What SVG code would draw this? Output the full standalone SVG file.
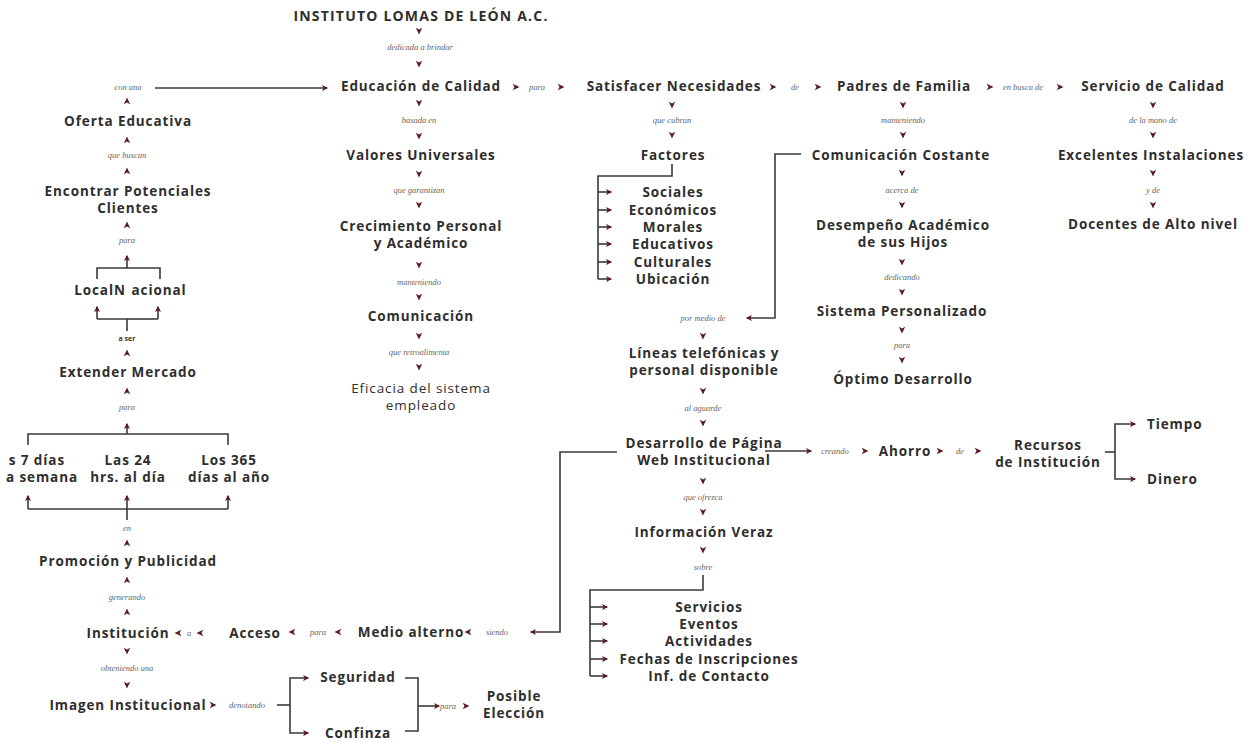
<svg xmlns="http://www.w3.org/2000/svg" width="1248" height="743" viewBox="0 0 1248 743">
<style>
.n{font-family:"Open Sans","Liberation Sans",sans-serif;font-weight:700;font-size:13.5px;letter-spacing:0.9px;fill:#2e2e2e;text-anchor:middle;dominant-baseline:central}
.nl{font-weight:500}
.l{font-family:"Liberation Serif",serif;font-style:italic;font-size:8.5px;fill:#666;text-anchor:middle;dominant-baseline:central}
.lb{font-family:"Open Sans","Liberation Sans",sans-serif;font-weight:700;font-size:7px;fill:#333;text-anchor:middle;dominant-baseline:central}
.c{fill:none;stroke:#3a3a3a;stroke-width:1.6}
.a{marker-end:url(#mk)}
</style>
<defs>
<path id="ar" d="M-3.3,-3.2 L3.5,0 L-3.3,3.2 L-1.5,0 Z" fill="#5c1a1f"/>
<marker id="mk" markerUnits="userSpaceOnUse" viewBox="-4 -4 8 8" refX="2" refY="0" markerWidth="8" markerHeight="8" orient="auto">
<path d="M-3,-3 L3.2,0 L-3,3 L-1.4,0 Z" fill="#5c1a1f"/>
</marker>
</defs>

<g id="connectors">
<use href="#ar" transform="translate(419,31) rotate(90)"/>
<text class="l" x="420" y="47">dedicada a brindar</text>
<use href="#ar" transform="translate(419,64) rotate(90)"/>
<use href="#ar" transform="translate(419,103) rotate(90)"/>
<text class="l" x="419" y="120">basada en</text>
<use href="#ar" transform="translate(419,136) rotate(90)"/>
<use href="#ar" transform="translate(419,174) rotate(90)"/>
<text class="l" x="419" y="190">que garantizan</text>
<use href="#ar" transform="translate(419,205) rotate(90)"/>
<use href="#ar" transform="translate(419,265) rotate(90)"/>
<text class="l" x="419" y="282">manteniendo</text>
<use href="#ar" transform="translate(419,297) rotate(90)"/>
<use href="#ar" transform="translate(419,336) rotate(90)"/>
<text class="l" x="419" y="352">que retroalimenta</text>
<use href="#ar" transform="translate(419,367) rotate(90)"/>

<use href="#ar" transform="translate(516,87)"/>
<text class="l" x="537" y="87">para</text>
<use href="#ar" transform="translate(561,87)"/>
<use href="#ar" transform="translate(773,87)"/>
<text class="l" x="795" y="87">de</text>
<use href="#ar" transform="translate(818,87)"/>
<use href="#ar" transform="translate(990,87)"/>
<text class="l" x="1023" y="87">en busca de</text>
<use href="#ar" transform="translate(1060,87)"/>

<use href="#ar" transform="translate(672,105) rotate(90)"/>
<text class="l" x="672" y="120">que cubran</text>
<use href="#ar" transform="translate(672,135) rotate(90)"/>
<path class="c" d="M672,164 V176 H598 V279"/>
<path class="c a" d="M598,192 H611"/>
<path class="c a" d="M598,210 H611"/>
<path class="c a" d="M598,227 H611"/>
<path class="c a" d="M598,244 H611"/>
<path class="c a" d="M598,262 H611"/>
<path class="c a" d="M598,279 H611"/>

<use href="#ar" transform="translate(903,105) rotate(90)"/>
<text class="l" x="903" y="120">manteniendo</text>
<use href="#ar" transform="translate(903,135) rotate(90)"/>
<path class="c a" d="M801,154 H775 V318 H747"/>
<use href="#ar" transform="translate(902,173) rotate(90)"/>
<text class="l" x="902" y="190">acerca de</text>
<use href="#ar" transform="translate(902,205) rotate(90)"/>
<use href="#ar" transform="translate(902,262) rotate(90)"/>
<text class="l" x="902" y="277">dedicando</text>
<use href="#ar" transform="translate(902,292) rotate(90)"/>
<use href="#ar" transform="translate(902,330) rotate(90)"/>
<text class="l" x="902" y="345">para</text>
<use href="#ar" transform="translate(902,360) rotate(90)"/>

<use href="#ar" transform="translate(1153,105) rotate(90)"/>
<text class="l" x="1153" y="120">de la mano de</text>
<use href="#ar" transform="translate(1153,135) rotate(90)"/>
<use href="#ar" transform="translate(1153,173) rotate(90)"/>
<text class="l" x="1153" y="190">y de</text>
<use href="#ar" transform="translate(1153,205) rotate(90)"/>

<text class="l" x="703" y="318">por medio de</text>
<use href="#ar" transform="translate(703,336) rotate(90)"/>
<use href="#ar" transform="translate(703,391) rotate(90)"/>
<text class="l" x="703" y="408">al aguarde</text>
<use href="#ar" transform="translate(703,423) rotate(90)"/>
<use href="#ar" transform="translate(703,481) rotate(90)"/>
<text class="l" x="703" y="497">que ofrezca</text>
<use href="#ar" transform="translate(703,512) rotate(90)"/>
<use href="#ar" transform="translate(703,550) rotate(90)"/>
<text class="l" x="703" y="567">sobre</text>
<path class="c" d="M703,575 V590 H590 V676"/>
<path class="c a" d="M590,607 H607"/>
<path class="c a" d="M590,624 H607"/>
<path class="c a" d="M590,641 H607"/>
<path class="c a" d="M590,659 H607"/>
<path class="c a" d="M590,676 H607"/>

<path class="c a" d="M765,451 H811"/>
<text class="l" x="835" y="451">creando</text>
<use href="#ar" transform="translate(865,451)"/>
<use href="#ar" transform="translate(940,451)"/>
<text class="l" x="960" y="451">de</text>
<use href="#ar" transform="translate(978,451)"/>
<path class="c" d="M1105,452 H1115"/>
<path class="c a" d="M1115,452 V424 H1135"/>
<path class="c a" d="M1115,452 V479 H1135"/>

<path class="c a" d="M617,452 H560 V632 H531"/>
<text class="l" x="497" y="632">siendo</text>
<use href="#ar" transform="translate(468,632) rotate(180)"/>
<use href="#ar" transform="translate(338,632) rotate(180)"/>
<text class="l" x="318" y="632">para</text>
<use href="#ar" transform="translate(292,632) rotate(180)"/>
<use href="#ar" transform="translate(200,633) rotate(180)"/>
<text class="l" x="189" y="633">a</text>
<use href="#ar" transform="translate(178,633) rotate(180)"/>

<text class="l" x="128" y="87">con una</text>
<path class="c a" d="M155,88 H327"/>
<use href="#ar" transform="translate(127,101) rotate(-90)"/>
<use href="#ar" transform="translate(127,140) rotate(-90)"/>
<text class="l" x="127" y="155">que buscan</text>
<use href="#ar" transform="translate(127,171) rotate(-90)"/>
<use href="#ar" transform="translate(127,225) rotate(-90)"/>
<text class="l" x="127" y="240">para</text>
<path class="c a" d="M127,268 V256"/>
<path class="c" d="M97,279 V268 H160 V279"/>
<path class="c" d="M127,331 V319 H97"/>
<path class="c" d="M127,319 H158"/>
<path class="c a" d="M97,319 V307"/>
<path class="c a" d="M158,319 V307"/>
<text class="lb" x="127" y="338">a ser</text>
<use href="#ar" transform="translate(127,353) rotate(-90)"/>
<use href="#ar" transform="translate(127,391) rotate(-90)"/>
<text class="l" x="127" y="407">para</text>
<path class="c a" d="M127,434 V424"/>
<path class="c" d="M28,445 V434 H228 V445"/>
<path class="c" d="M28,509 H228"/>
<path class="c a" d="M28,509 V496"/>
<path class="c a" d="M228,509 V496"/>
<path class="c a" d="M127,520 V496"/>
<text class="l" x="127" y="528">en</text>
<use href="#ar" transform="translate(127,543) rotate(-90)"/>
<use href="#ar" transform="translate(127,580) rotate(-90)"/>
<text class="l" x="127" y="597">generando</text>
<use href="#ar" transform="translate(127,612) rotate(-90)"/>
<use href="#ar" transform="translate(127,651) rotate(90)"/>
<text class="l" x="127" y="668">obteniendo una</text>
<use href="#ar" transform="translate(127,685) rotate(90)"/>
<use href="#ar" transform="translate(213,705)"/>
<text class="l" x="247" y="705">denotando</text>
<path class="c" d="M277,705 H290"/>
<path class="c a" d="M290,705 V678 H308"/>
<path class="c a" d="M290,705 V733 H308"/>
<path class="c" d="M405,678 H418 V731 H405"/>
<path class="c a" d="M418,706 H439"/>
<text class="l" x="448" y="706">para</text>
<use href="#ar" transform="translate(466,706)"/>
</g>

<g id="title"><text class="n" x="421" y="15" style="font-size:14px;letter-spacing:1.2px">INSTITUTO LOMAS DE LEÓN A.C.</text></g>
<g id="educacion"><text class="n" x="421" y="86">Educación de Calidad</text></g>
<g id="valores"><text class="n" x="421" y="155">Valores Universales</text></g>
<g id="crecimiento"><text class="n" x="421" y="226">Crecimiento Personal</text><text class="n" x="421" y="243">y Académico</text></g>
<g id="comunicacion"><text class="n" x="421" y="316">Comunicación</text></g>
<g id="eficacia"><text class="n nl" x="421" y="388">Eficacia del sistema</text><text class="n nl" x="421" y="405">empleado</text></g>

<g id="satisfacer"><text class="n" x="674" y="86">Satisfacer Necesidades</text></g>
<g id="factores"><text class="n" x="673" y="155">Factores</text></g>
<g id="factores-lista">
<text class="n" x="673" y="192">Sociales</text>
<text class="n" x="673" y="210">Económicos</text>
<text class="n" x="673" y="227">Morales</text>
<text class="n" x="673" y="244">Educativos</text>
<text class="n" x="673" y="262">Culturales</text>
<text class="n" x="673" y="279">Ubicación</text>
</g>

<g id="padres"><text class="n" x="904" y="86">Padres de Familia</text></g>
<g id="comunicacion-costante"><text class="n" x="901" y="155">Comunicación Costante</text></g>
<g id="desempeno"><text class="n" x="903" y="225">Desempeño Académico</text><text class="n" x="903" y="242">de sus Hijos</text></g>
<g id="sistema"><text class="n" x="902" y="311">Sistema Personalizado</text></g>
<g id="optimo"><text class="n" x="903" y="379">Óptimo Desarrollo</text></g>

<g id="servicio"><text class="n" x="1153" y="86">Servicio de Calidad</text></g>
<g id="instalaciones"><text class="n" x="1151" y="155">Excelentes Instalaciones</text></g>
<g id="docentes"><text class="n" x="1153" y="224">Docentes de Alto nivel</text></g>

<g id="lineas"><text class="n" x="704" y="353">Líneas telefónicas y</text><text class="n" x="704" y="370">personal disponible</text></g>
<g id="desarrollo"><text class="n" x="704" y="443">Desarrollo de Página</text><text class="n" x="704" y="460">Web Institucional</text></g>
<g id="informacion"><text class="n" x="704" y="532">Información Veraz</text></g>
<g id="info-lista">
<text class="n" x="709" y="607">Servicios</text>
<text class="n" x="709" y="624">Eventos</text>
<text class="n" x="709" y="641">Actividades</text>
<text class="n" x="709" y="659">Fechas de Inscripciones</text>
<text class="n" x="709" y="676">Inf. de Contacto</text>
</g>

<g id="ahorro"><text class="n" x="905" y="451">Ahorro</text></g>
<g id="recursos"><text class="n" x="1048" y="445">Recursos</text><text class="n" x="1048" y="462">de Institución</text></g>
<g id="tiempo"><text class="n" x="1147" y="424" style="text-anchor:start">Tiempo</text></g>
<g id="dinero"><text class="n" x="1147" y="479" style="text-anchor:start">Dinero</text></g>

<g id="medio"><text class="n" x="411" y="632">Medio alterno</text></g>
<g id="acceso"><text class="n" x="255" y="633">Acceso</text></g>
<g id="institucion"><text class="n" x="128" y="633">Institución</text></g>
<g id="imagen"><text class="n" x="128" y="705">Imagen Institucional</text></g>
<g id="seguridad"><text class="n" x="358" y="677">Seguridad</text></g>
<g id="confinza"><text class="n" x="358" y="733">Confinza</text></g>
<g id="posible"><text class="n" x="514" y="696">Posible</text><text class="n" x="514" y="713">Elección</text></g>
<g id="promocion"><text class="n" x="128" y="561">Promoción y Publicidad</text></g>
<g id="siete"><text class="n" x="65" y="460" style="text-anchor:end">s 7 días</text><text class="n" x="78" y="477" style="text-anchor:end">a semana</text></g>
<g id="veinticuatro"><text class="n" x="128" y="460">Las 24</text><text class="n" x="128" y="477">hrs. al día</text></g>
<g id="trescientos"><text class="n" x="229" y="460">Los 365</text><text class="n" x="229" y="477">días al año</text></g>
<g id="extender"><text class="n" x="128" y="372">Extender Mercado</text></g>
<g id="local"><text class="n" y="290"><tspan x="100">LocalN</tspan><tspan x="159">acional</tspan></text></g>
<g id="encontrar"><text class="n" x="128" y="191">Encontrar Potenciales</text><text class="n" x="128" y="208">Clientes</text></g>
<g id="oferta"><text class="n" x="128" y="121">Oferta Educativa</text></g>
</svg>
